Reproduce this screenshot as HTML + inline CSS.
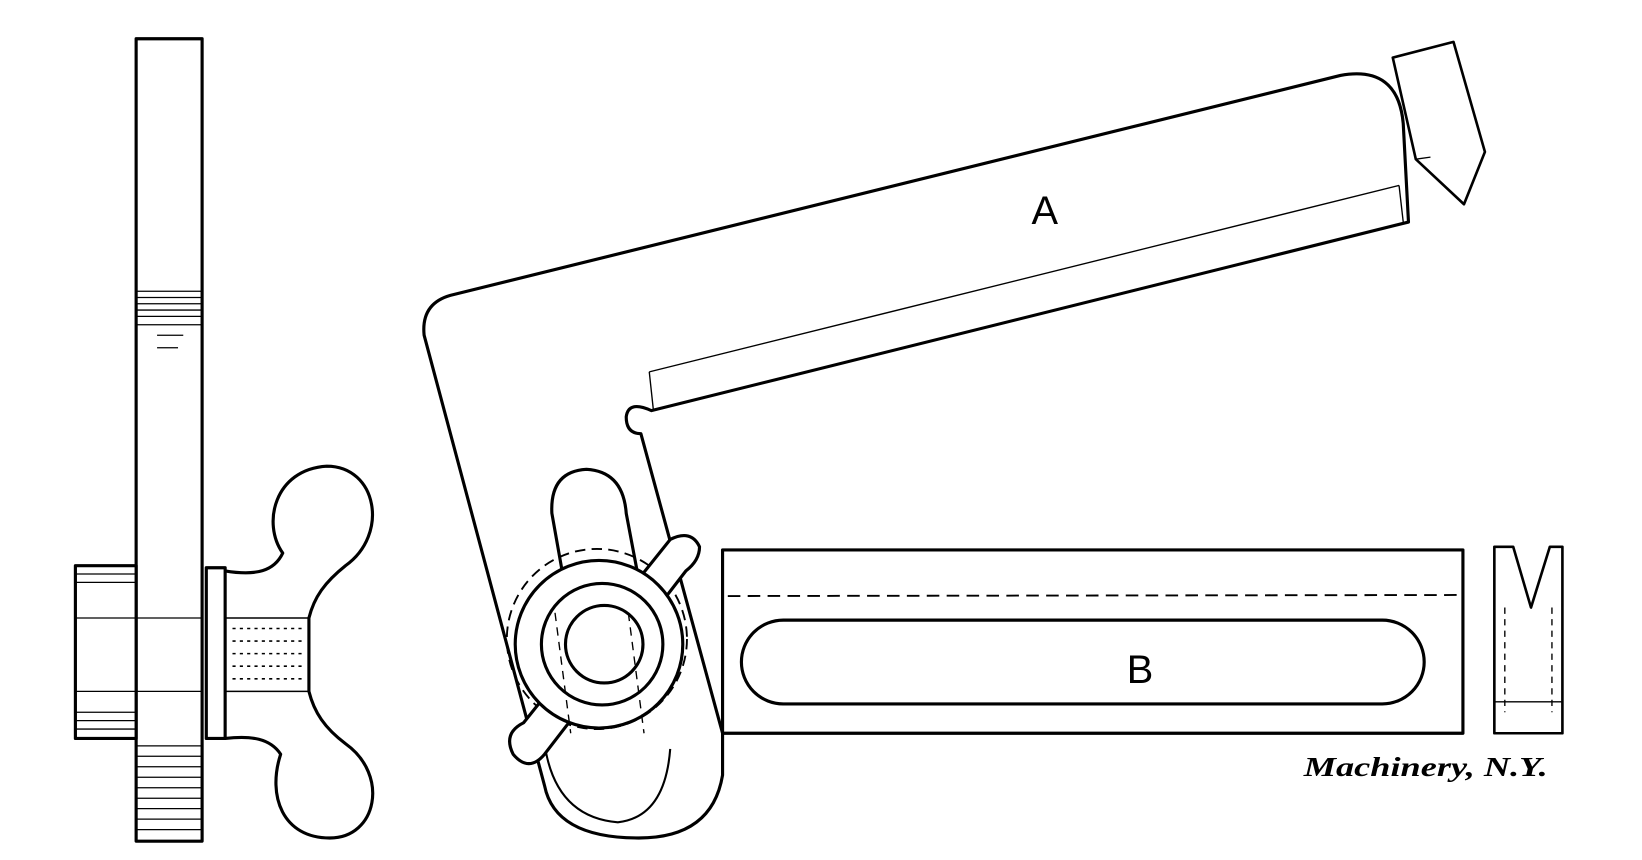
<!DOCTYPE html>
<html><head><style>
html,body{margin:0;padding:0;background:#fff;}
svg{display:block;}
</style></head><body>
<svg width="1642" height="860" viewBox="0 0 1568 821" preserveAspectRatio="none" xmlns="http://www.w3.org/2000/svg">
<g fill="none" stroke="#000" stroke-width="3" stroke-linejoin="round">
<rect x="130" y="37" width="63" height="766" fill="#fff"/>
<g stroke-width="1.2">
<line x1="131" y1="278" x2="192" y2="278"/><line x1="131" y1="284" x2="192" y2="284"/>
<line x1="131" y1="290" x2="192" y2="290"/><line x1="131" y1="296" x2="192" y2="296"/>
<line x1="131" y1="302" x2="192" y2="302"/><line x1="131" y1="310" x2="192" y2="310"/>
<line x1="150" y1="320" x2="175" y2="320"/><line x1="150" y1="332" x2="170" y2="332"/>
<line x1="131" y1="712" x2="192" y2="712"/><line x1="131" y1="722" x2="192" y2="722"/>
<line x1="131" y1="732" x2="192" y2="732"/><line x1="131" y1="742" x2="192" y2="742"/>
<line x1="131" y1="752" x2="192" y2="752"/><line x1="131" y1="762" x2="192" y2="762"/>
<line x1="131" y1="772" x2="192" y2="772"/><line x1="131" y1="782" x2="192" y2="782"/>
<line x1="131" y1="792" x2="192" y2="792"/>
</g>
<rect x="72" y="540" width="58" height="165" fill="#fff"/>
<g stroke-width="1.2">
<line x1="73" y1="548" x2="129" y2="548"/><line x1="73" y1="556" x2="129" y2="556"/>
<line x1="73" y1="590" x2="193" y2="590"/><line x1="73" y1="660" x2="193" y2="660"/>
<line x1="73" y1="680" x2="129" y2="680"/><line x1="73" y1="688" x2="129" y2="688"/>
<line x1="73" y1="696" x2="129" y2="696"/>
</g>
<rect x="197" y="542" width="18" height="163" fill="#fff"/>
<rect x="215" y="590" width="80" height="70" stroke-width="1.5"/>
<g stroke-width="1.5" stroke-dasharray="3 4">
<line x1="222" y1="600" x2="292" y2="600"/><line x1="222" y1="612" x2="292" y2="612"/>
<line x1="222" y1="624" x2="292" y2="624"/><line x1="222" y1="636" x2="292" y2="636"/>
<line x1="222" y1="648" x2="292" y2="648"/>
</g>
<path d="M215 545 C245 550 262 545 270 528 C250 500 262 448 312 445 C360 445 372 510 330 540 C310 556 300 570 295 590 L295 660 C300 680 310 695 330 710 C372 740 360 800 315 800 C270 800 255 760 268 720 C258 705 240 702 215 705"/>
<path d="M430 282 L1280 72 Q1335 62 1340 118 L1345 212 L622 392 Q600 382 598 398 Q598 414 612 414 L690 700 L690 740 Q680 800 610 800 Q530 800 520 750 L405 320 Q402 290 430 282 Z" fill="#fff"/>
<line x1="620" y1="355" x2="1336" y2="177" stroke-width="1.3"/>
<line x1="620" y1="355" x2="624" y2="392" stroke-width="1.3"/>
<line x1="1336" y1="177" x2="1340" y2="212" stroke-width="1.3"/>
<rect x="690" y="525" width="707" height="175" fill="#fff"/>
<line x1="695" y1="569" x2="1397" y2="568" stroke-width="1.8" stroke-dasharray="12 7"/>
<rect x="708" y="592" width="652" height="80" rx="40"/>
<path d="M520 710 Q530 780 590 785 Q635 780 640 715" stroke-width="2"/>
<path d="M543 580 L527 490 Q525 450 560 448 Q595 450 598 490 L615 580" fill="#fff"/>
<circle cx="570" cy="610" r="86" stroke-width="1.8" stroke-dasharray="10 6"/>
<path d="M490 720 Q480 700 500 690 L640 515 Q660 505 668 522 Q668 535 655 545 L520 720 Q505 738 490 720 Z" fill="#fff"/>
<circle cx="572" cy="615" r="80" fill="#fff"/>
<circle cx="575" cy="615" r="58"/>
<circle cx="577" cy="615" r="37"/>
<g stroke-width="1.3" stroke-dasharray="8 6">
<line x1="530" y1="585" x2="545" y2="700"/><line x1="600" y1="585" x2="615" y2="700"/>
</g>
<path d="M1330 55 L1388 40 L1418 145 L1398 195 L1352 152 Z" stroke-width="2.5"/>
<line x1="1352" y1="152" x2="1366" y2="150" stroke-width="1.3"/>
<path d="M1427 522 L1427 700 L1492 700 L1492 522 L1480 522 L1462 580 L1445 522 Z" stroke-width="2.5"/>
<path d="M1437 580 L1437 680 M1482 580 L1482 680" stroke-width="1.3" stroke-dasharray="6 5"/>
<line x1="1427" y1="670" x2="1492" y2="670" stroke-width="1.3"/>
</g>
<g font-family="Liberation Sans, sans-serif" font-size="38" fill="#000">
<text x="985" y="214">A</text>
<text x="1076" y="652">B</text>
</g>
<text x="1245" y="741" font-family="Liberation Serif, serif" font-style="italic" font-weight="bold" font-size="26" fill="#000" textLength="233" lengthAdjust="spacingAndGlyphs">Machinery, N.Y.</text>
</svg>
</body></html>
